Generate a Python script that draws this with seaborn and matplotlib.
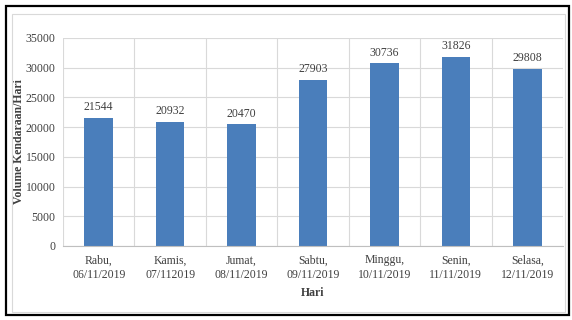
import matplotlib
matplotlib.use("Agg")
import matplotlib.pyplot as plt
import seaborn as sns
import pandas as pd
from matplotlib.patches import Rectangle

days = ["Rabu,\n06/11/2019", "Kamis,\n07/112019", "Jumat,\n08/11/2019", "Sabtu,\n09/11/2019",
        "Minggu,\n10/11/2019", "Senin,\n11/11/2019", "Selasa,\n12/11/2019"]
volumes = [21544, 20932, 20470, 27903, 30736, 31826, 29808]
yticks = [0, 5000, 10000, 15000, 20000, 25000, 30000, 35000]

sns.set_theme(style="white")
plt.rcParams['font.family'] = ['Liberation Serif', 'DejaVu Serif']

df = pd.DataFrame({"Hari": days, "Volume": volumes})

W, H = 572, 320
fig = plt.figure(figsize=(W / 100, H / 100), dpi=100)
ax = fig.add_axes([63 / W, 1 - 246 / H, 500 / W, 208 / H])

sns.barplot(data=df, x="Hari", y="Volume", color="#4a7ebb", width=0.4, ax=ax,
            saturation=1, edgecolor="none")

ax.set_ylim(0, 35000)
ax.set_xlim(-0.5, 6.5)
ax.set_yticks(yticks)
ax.set_yticklabels([str(t) for t in yticks], fontsize=8.5, color="#404040")
ax.tick_params(axis="x", labelsize=8.5, colors="#404040", length=0, pad=6)
ax.tick_params(axis="y", length=0, pad=5.5)
ax.set_xticks(range(len(days)))
ax.set_xticklabels(days, linespacing=1.3)

ax.set_axisbelow(True)
ax.yaxis.grid(True, color="#d9d9d9", linewidth=0.8)
for b in [i - 0.5 for i in range(len(days) + 1)]:
    ax.axvline(b, color="#d9d9d9", linewidth=0.8, zorder=0)

for s in ["top", "right", "left"]:
    ax.spines[s].set_visible(False)
ax.spines["bottom"].set_color("#bfbfbf")
ax.spines["bottom"].set_linewidth(0.8)

for i, v in enumerate(volumes):
    ax.text(i, v + 800, str(v), ha="center", va="bottom", fontsize=8.5, color="#404040")

ax.set_xlabel("Hari", fontsize=8.5, fontweight="bold", color="#404040", labelpad=4)
ax.set_ylabel("Volume Kendaraan/Hari", fontsize=8.5, fontweight="bold", color="#404040")
ax.yaxis.set_label_coords((25 - 63) / 500, 0.5)

fig.patches.append(Rectangle((6 / W, 1 - 315 / H), 563 / W, 309 / H, transform=fig.transFigure,
                             fill=False, edgecolor="black", linewidth=1.6))
fig.patches.append(Rectangle((12 / W, 1 - 312 / H), 553 / W, 298 / H, transform=fig.transFigure,
                             fill=False, edgecolor="#d9d9d9", linewidth=0.8))

fig.savefig("out.png", dpi=100)
